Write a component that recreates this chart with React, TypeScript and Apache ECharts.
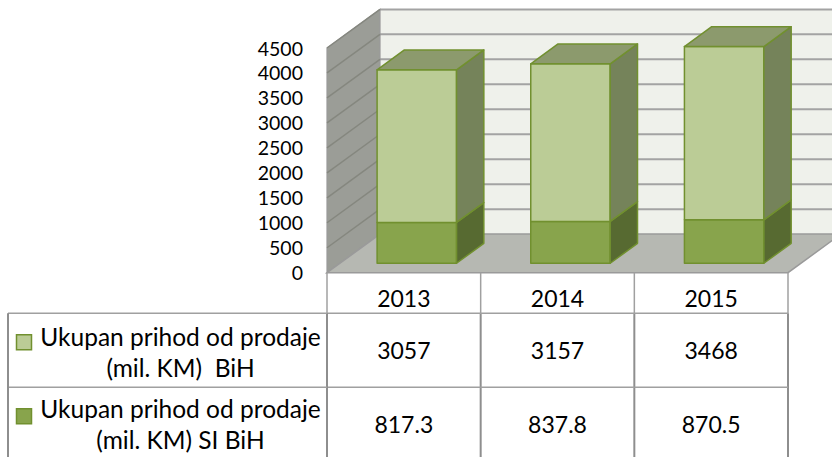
import React, { useEffect, useRef } from 'react';
import * as echarts from 'echarts';

// ---- data ----
const categories = ['2013', '2014', '2015'];
const siBihValues = [817.3, 837.8, 870.5];
const bihValues = [3057, 3157, 3468];
const bihLabels = ['3057', '3157', '3468'];
const siBihLabels = ['817.3', '837.8', '870.5'];
const seriesNames = [
  ['Ukupan prihod od prodaje', '(mil. KM)  BiH'],
  ['Ukupan prihod od prodaje', '(mil. KM) SI BiH'],
];
const yMin = 0;
const yMax = 4500;
const yInterval = 500;

// ---- style constants ----
const FONT = 'Lato, "Noto Sans", sans-serif';
const DX = 53;
const DY = -38.6;
const BAR_FRONT = 0.245;
const BAR_BACK = 0.76;
const BAR_W_RATIO = 0.517;
const HEADER_H = 40.6;
const ROW_H = 74;
const LABEL_LEFT = 8;

const C = {
  backWall: '#eff1eb',
  sideWall: '#9b9d97',
  floor: '#b6b8b2',
  grid: '#a3a3a3',
  sideGrid: '#85877f',
  edge: '#9a9a9a',
  lightFront: '#bbcc96',
  lightTop: '#8c9a6d',
  lightSide: '#75835a',
  darkFront: '#88a44c',
  darkSide: '#576a31',
  outline: '#71902f',
  table: '#a0a0a0',
  tableBody: '#8e8e8e',
};

function levels(): number[] {
  const out: number[] = [];
  for (let v = yMin; v <= yMax; v += yInterval) out.push(v);
  return out;
}

function renderFrame(params: any, api: any) {
  const cs = params.coordSys;
  const left = cs.x;
  const right = cs.x + cs.width;
  const top = cs.y;
  const bottom = cs.y + cs.height;
  const children: any[] = [];
  children.push({
    type: 'rect',
    shape: { x: left + DX, y: top + DY, width: cs.width, height: cs.height },
    style: { fill: C.backWall },
  });
  levels().forEach((v) => {
    if (v === yMin) return;
    const y = api.coord([0, v])[1];
    children.push({
      type: 'line',
      shape: { x1: left + DX, y1: y + DY, x2: right + DX + 2, y2: y + DY },
      style: { stroke: C.grid, lineWidth: 2 },
    });
  });
  children.push({
    type: 'polygon',
    shape: { points: [[left, top], [left + DX, top + DY], [left + DX, bottom + DY], [left, bottom]] },
    style: { fill: C.sideWall, stroke: C.edge, lineWidth: 1.2 },
  });
  levels().forEach((v) => {
    if (v === yMin) return;
    const y = api.coord([0, v])[1];
    children.push({
      type: 'line',
      shape: { x1: left, y1: y, x2: left + DX, y2: y + DY },
      style: { stroke: C.sideGrid, lineWidth: 1.5 },
    });
  });
  children.push({
    type: 'polygon',
    shape: { points: [[left, bottom], [right, bottom], [right + DX, bottom + DY], [left + DX, bottom + DY]] },
    style: { fill: C.floor, stroke: C.edge, lineWidth: 1.5 },
  });
  return { type: 'group', children };
}

function renderBars(params: any, api: any) {
  const i = api.value(0);
  const s = api.value(1);
  const b = api.value(2);
  const cx = api.coord([i, 0])[0];
  const bandW = api.size([1, 0])[0];
  const barW = bandW * BAR_W_RATIO;
  const fx = DX * BAR_FRONT;
  const fy = DY * BAR_FRONT;
  const bdx = DX * (BAR_BACK - BAR_FRONT);
  const bdy = DY * (BAR_BACK - BAR_FRONT);
  const y0 = api.coord([i, 0])[1] + fy;
  const y1 = api.coord([i, s])[1] + fy;
  const y2 = api.coord([i, s + b])[1] + fy;
  const xl = cx - barW / 2 + fx;
  const xr = xl + barW;
  const st = (fill: string) => ({ fill, stroke: C.outline, lineWidth: 1.5, lineJoin: 'round' });
  return {
    type: 'group',
    children: [
      { type: 'rect', shape: { x: xl, y: y1, width: barW, height: y0 - y1 }, style: st(C.darkFront) },
      {
        type: 'polygon',
        shape: { points: [[xr, y0], [xr + bdx, y0 + bdy], [xr + bdx, y1 + bdy], [xr, y1]] },
        style: st(C.darkSide),
      },
      { type: 'rect', shape: { x: xl, y: y2, width: barW, height: y1 - y2 }, style: st(C.lightFront) },
      {
        type: 'polygon',
        shape: { points: [[xr, y1], [xr + bdx, y1 + bdy], [xr + bdx, y2 + bdy], [xr, y2]] },
        style: st(C.lightSide),
      },
      {
        type: 'polygon',
        shape: { points: [[xl, y2], [xr, y2], [xr + bdx, y2 + bdy], [xl + bdx, y2 + bdy]] },
        style: st(C.lightTop),
      },
    ],
  };
}

function tableText(text: string, x: number, y: number, size = 23) {
  return {
    type: 'text',
    x,
    y,
    style: { text, fill: '#000', fontSize: size, fontFamily: FONT, align: 'center', verticalAlign: 'middle' },
  };
}

function renderTable(params: any, api: any) {
  const cs = params.coordSys;
  const i = api.value(0);
  const cx = api.coord([i, 0])[0];
  const bandW = api.size([1, 0])[0];
  const top = cs.y + cs.height;
  const r1 = top + HEADER_H;
  const r2 = r1 + ROW_H;
  const bottom = 470;
  const xL = cx - bandW / 2;
  const xR = cx + bandW / 2;
  const children: any[] = [
    { type: 'line', shape: { x1: xR, y1: top, x2: xR, y2: r1 }, style: { stroke: C.table, lineWidth: 1.5 } },
    { type: 'line', shape: { x1: xR, y1: r1, x2: xR, y2: bottom }, style: { stroke: C.tableBody, lineWidth: 2 } },
    { type: 'line', shape: { x1: xL, y1: r1, x2: xR, y2: r1 }, style: { stroke: C.table, lineWidth: 1.5 } },
    { type: 'line', shape: { x1: xL, y1: r2, x2: xR, y2: r2 }, style: { stroke: C.table, lineWidth: 1.5 } },
    tableText(categories[i], cx, top + HEADER_H / 2 + 5),
    tableText(bihLabels[i], cx, r1 + ROW_H / 2),
    tableText(siBihLabels[i], cx, r2 + ROW_H / 2 - 0.5),
  ];
  if (i === 0) {
    children.push(
      { type: 'line', shape: { x1: xL, y1: top, x2: xL, y2: r1 }, style: { stroke: C.table, lineWidth: 1.5 } },
      { type: 'line', shape: { x1: xL, y1: r1, x2: xL, y2: bottom }, style: { stroke: C.tableBody, lineWidth: 2 } },
      { type: 'line', shape: { x1: LABEL_LEFT, y1: r1, x2: xL, y2: r1 }, style: { stroke: C.table, lineWidth: 1.5 } },
      { type: 'line', shape: { x1: LABEL_LEFT, y1: r2, x2: xL, y2: r2 }, style: { stroke: C.table, lineWidth: 1.5 } },
      { type: 'line', shape: { x1: LABEL_LEFT, y1: r1, x2: LABEL_LEFT, y2: bottom }, style: { stroke: C.tableBody, lineWidth: 2 } },
      {
        type: 'rect',
        shape: { x: 16.5, y: r1 + 21.5, width: 15, height: 15 },
        style: { fill: C.lightFront, stroke: C.outline, lineWidth: 1.5 },
      },
      {
        type: 'rect',
        shape: { x: 16.5, y: r2 + 21.5, width: 15, height: 15 },
        style: { fill: C.darkFront, stroke: C.outline, lineWidth: 1.5 },
      }
    );
    const labelX = (LABEL_LEFT + 26 + xL) / 2;
    seriesNames.forEach((lines, k) => {
      const rowTop = k === 0 ? r1 : r2;
      const off = k === 0 ? 0 : -2;
      children.push(tableText(lines[0], labelX, rowTop + 23 + off, 24.5));
      children.push(tableText(lines[1], labelX, rowTop + 54 + off, 24.5));
    });
  }
  return { type: 'group', children };
}

export default function App() {
  const ref = useRef<HTMLDivElement>(null);
  useEffect(() => {
    if (!ref.current) return;
    const chart = echarts.init(ref.current, null, { renderer: 'svg' });
    chart.setOption({
      animation: false,
      backgroundColor: '#ffffff',
      grid: { left: 327, right: 44, top: 48, bottom: 184.3, containLabel: false },
      xAxis: {
        type: 'category',
        data: categories,
        axisLine: { show: false },
        axisTick: { show: false },
        axisLabel: { show: false },
        splitLine: { show: false },
      },
      yAxis: {
        type: 'value',
        min: yMin,
        max: yMax,
        interval: yInterval,
        axisLine: { show: false },
        axisTick: { show: false },
        splitLine: { show: false },
        axisLabel: {
          fontSize: 19.5,
          fontFamily: FONT,
          color: '#000',
          margin: 24,
          formatter: (v: number) => String(v),
        },
      },
      series: [
        {
          type: 'custom',
          name: 'frame',
          silent: true,
          z: 1,
          renderItem: renderFrame,
          data: [[0, 0]],
          encode: { x: 0, y: 1 },
        },
        {
          type: 'custom',
          name: 'bars',
          silent: true,
          z: 2,
          renderItem: renderBars,
          data: categories.map((_, i) => [i, siBihValues[i], bihValues[i]]),
          encode: { x: 0, y: [1, 2] },
        },
        {
          type: 'custom',
          name: 'table',
          silent: true,
          z: 3,
          renderItem: renderTable,
          data: categories.map((_, i) => [i, 0]),
          encode: { x: 0, y: 1 },
        },
      ],
    });
    return () => chart.dispose();
  }, []);
  return (
    <div
      ref={ref}
      style={{ position: 'fixed', left: 0, top: 0, width: 832, height: 457, background: '#fff' }}
    />
  );
}
